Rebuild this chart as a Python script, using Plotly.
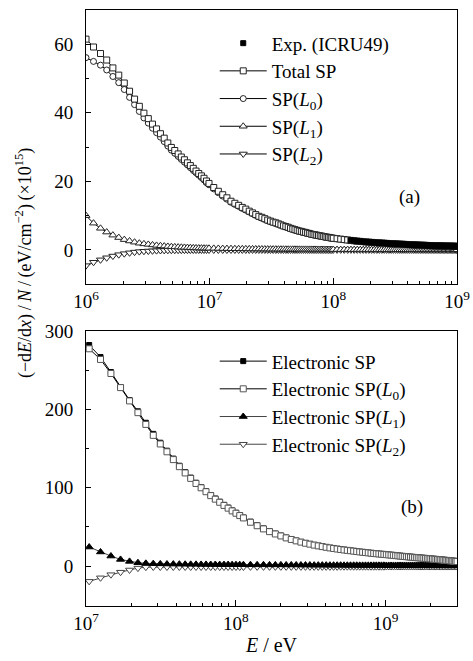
import plotly.graph_objects as go

# ---------------- panel (a) data: energy in MeV, SP in 1e-15 eV cm^2 ----------------
E_top_MeV = [1.00, 1.15, 1.31, 1.47, 1.65, 1.84, 2.04, 2.25, 2.47, 2.70, 2.94, 3.19, 3.45, 3.72, 4.00,
             4.29, 4.59, 4.90, 5.22, 5.56, 5.90, 6.25, 6.61, 6.98, 7.37, 7.76, 8.16, 8.58, 9.00, 9.43, 9.88,
             10.79, 11.75, 12.75, 13.79, 14.87, 15.99, 17.16, 18.36, 19.60, 20.89, 22.22, 23.58, 24.99, 26.44,
             27.93, 29.46, 31.03, 32.64, 34.29, 35.99, 37.72, 39.49, 41.31, 43.17, 45.06, 47.00, 48.98, 51.00,
             53.06, 55.16, 57.30, 59.49, 61.71, 63.97, 66.28, 68.63, 71.01, 73.44, 75.91, 78.42, 80.97, 83.56,
             86.19, 88.86, 91.58, 94.33, 97.12, 99.96,
             107.2, 114.75, 122.5, 130.6, 138.8, 147.4, 156.2, 165.2, 174.5, 184.1,
             193.9, 204.0, 214.3, 224.9, 235.7, 246.8, 258.2, 269.8, 281.6, 293.8,
             306.1, 318.75, 331.6, 344.8, 358.1, 371.8, 385.7, 399.8, 414.2, 428.9,
             443.8, 459.0, 474.4, 490.1, 506.0, 522.2, 538.7, 555.4, 572.3, 589.6,
             607.0, 624.75, 642.7, 661.0, 679.4, 698.2, 717.2, 736.4, 756.0, 775.7,
             795.7, 816.0, 836.5, 857.3, 878.3, 899.6, 921.2, 943.0, 965.0, 987.4, 1000.0]

total_sp = [61.5, 59.2, 57.3, 55.4, 53.1, 51.0, 48.7, 46.3, 44.0, 41.9, 39.9, 38.3, 36.7, 35.3, 33.9,
            32.6, 31.2, 29.9, 29.0, 28.0, 27.1, 26.3, 25.4, 24.6, 23.8, 23.0, 22.3, 21.6, 20.9, 20.1, 19.4,
            18.2, 17.1, 16.1, 15.2, 14.2, 13.6, 13.0, 12.4, 11.9, 11.3, 10.8, 10.3, 9.8, 9.5,
            9.1, 8.7, 8.4, 8.1, 7.9, 7.6, 7.3, 7.0, 6.8, 6.6, 6.3, 6.1, 5.9, 5.7,
            5.5, 5.4, 5.2, 5.1, 4.9, 4.8, 4.6, 4.5, 4.4, 4.3, 4.2, 4.1, 4.0, 3.9,
            3.8, 3.7, 3.65, 3.56, 3.47, 3.39,
            3.27, 3.14, 3.01, 2.90, 2.77, 2.66, 2.57, 2.49, 2.41, 2.34,
            2.26, 2.19, 2.14, 2.09, 2.05, 2.00, 1.95, 1.90, 1.86, 1.82,
            1.78, 1.75, 1.71, 1.68, 1.65, 1.62, 1.59, 1.57, 1.54, 1.51,
            1.48, 1.45, 1.42, 1.40, 1.37, 1.35, 1.34, 1.32, 1.30, 1.28,
            1.26, 1.25, 1.23, 1.21, 1.20, 1.18, 1.17, 1.16, 1.15, 1.14,
            1.13, 1.12, 1.11, 1.10, 1.09, 1.08, 1.07, 1.06, 1.05, 1.04, 1.03]

sp_L0 = [56.1, 55.0, 53.9, 52.5, 50.6, 48.8, 46.8, 44.5, 42.4, 40.4, 38.5, 37.0, 35.5, 34.2, 32.9,
         31.6, 30.3, 29.1, 28.2, 27.3, 26.4, 25.6, 24.8, 24.0, 23.2, 22.5, 21.8, 21.1, 20.4, 19.6, 19.0,
         17.8, 16.7, 15.7, 14.8, 13.9, 13.27, 12.7, 12.1, 11.6, 11.05, 10.55, 10.07, 9.6, 9.23,
         8.87, 8.52, 8.21, 7.93, 7.66, 7.39, 7.12, 6.87, 6.63, 6.39, 6.16, 5.93, 5.71, 5.52,
         5.37, 5.22, 5.07, 4.93, 4.79, 4.65, 4.51, 4.38, 4.26, 4.17, 4.07, 3.98, 3.89, 3.80,
         3.72, 3.63, 3.55, 3.46, 3.38, 3.30,
         3.17, 3.05, 2.92, 2.81, 2.69, 2.58, 2.49, 2.42, 2.34, 2.27,
         2.19, 2.13, 2.08, 2.03, 1.99, 1.94, 1.90, 1.85, 1.81, 1.77,
         1.73, 1.70, 1.67, 1.64, 1.61, 1.58, 1.55, 1.53, 1.50, 1.47,
         1.44, 1.42, 1.39, 1.37, 1.34, 1.32, 1.31, 1.29, 1.27, 1.25,
         1.23, 1.22, 1.20, 1.18, 1.17, 1.15, 1.14, 1.13, 1.12, 1.11,
         1.10, 1.09, 1.08, 1.07, 1.06, 1.05, 1.04, 1.03, 1.02, 1.01, 1.00]

sp_L1 = [10.0, 7.8, 6.3, 5.2, 4.3, 3.6, 3.0, 2.6, 2.25, 1.95, 1.75, 1.6, 1.45, 1.3, 1.2,
         1.1, 1.0, 0.93, 0.87, 0.81, 0.76, 0.72, 0.68, 0.64, 0.6, 0.57, 0.54, 0.52, 0.5, 0.48, 0.46,
         0.44, 0.42, 0.39, 0.38, 0.36, 0.34, 0.33, 0.31, 0.30, 0.29, 0.28, 0.27, 0.26, 0.25,
         0.24, 0.23, 0.22, 0.22, 0.21, 0.20, 0.20, 0.19, 0.18, 0.18, 0.17, 0.17, 0.17, 0.16,
         0.16, 0.15, 0.15, 0.15, 0.14, 0.14, 0.14, 0.13, 0.13, 0.13, 0.12, 0.12, 0.12, 0.12,
         0.11, 0.11, 0.11, 0.11, 0.10, 0.10,
         0.10, 0.09, 0.09, 0.09, 0.08, 0.08, 0.08, 0.07, 0.07, 0.07,
         0.07, 0.06, 0.06, 0.06, 0.06, 0.06, 0.05, 0.05, 0.05, 0.05,
         0.05, 0.05, 0.04, 0.04, 0.04, 0.04, 0.04, 0.04, 0.04, 0.04,
         0.04, 0.03, 0.03, 0.03, 0.03, 0.03, 0.03, 0.03, 0.03, 0.03,
         0.03, 0.03, 0.03, 0.03, 0.03, 0.03, 0.03, 0.03, 0.03, 0.03,
         0.03, 0.03, 0.03, 0.03, 0.03, 0.03, 0.03, 0.03, 0.03, 0.03, 0.03]

sp_L2 = [-4.6, -3.6, -2.9, -2.3, -1.8, -1.4, -1.1, -0.85, -0.65, -0.5, -0.4, -0.33, -0.27, -0.22, -0.18,
         -0.15, -0.13, -0.11, -0.1, -0.09, -0.08, -0.07, -0.06, -0.06, -0.05, -0.05, -0.04, -0.04, -0.04, -0.03, -0.03,
         -0.03, -0.03, -0.03, -0.03, -0.03, -0.03, -0.03, -0.03, -0.03, -0.03, -0.02, -0.02, -0.02, -0.02,
         -0.02, -0.02, -0.02, -0.02, -0.02, -0.02, -0.02, -0.02, -0.02, -0.02, -0.02, -0.02, -0.02, -0.02,
         -0.01, -0.01, -0.01, -0.01, -0.01, -0.01, -0.01, -0.01, -0.01, -0.01, -0.01, -0.01, -0.01, -0.01,
         -0.01, -0.01, -0.01, -0.01, -0.01, -0.01,
         0.0, 0.0, 0.0, 0.0, 0.0, 0.0, 0.0, 0.0, 0.0, 0.0,
         0.0, 0.0, 0.0, 0.0, 0.0, 0.0, 0.0, 0.0, 0.0, 0.0,
         0.0, 0.0, 0.0, 0.0, 0.0, 0.0, 0.0, 0.0, 0.0, 0.0,
         0.0, 0.0, 0.0, 0.0, 0.0, 0.0, 0.0, 0.0, 0.0, 0.0,
         0.0, 0.0, 0.0, 0.0, 0.0, 0.0, 0.0, 0.0, 0.0, 0.0,
         0.0, 0.0, 0.0, 0.0, 0.0, 0.0, 0.0, 0.0, 0.0, 0.0, 0.0]

# Exp. (ICRU49): the last 57 energies of the grid above
exp_E_MeV = E_top_MeV[-57:]
exp_sp = [2.8, 2.7, 2.6, 2.5, 2.4, 2.3, 2.25, 2.2, 2.15, 2.1, 2.05, 2.0, 1.95, 1.9, 1.86, 1.82,
          1.78, 1.75, 1.71, 1.68, 1.65, 1.62, 1.59, 1.57, 1.54, 1.51, 1.48, 1.45, 1.42, 1.40,
          1.37, 1.35, 1.34, 1.32, 1.30, 1.28, 1.26, 1.25, 1.23, 1.21, 1.20, 1.18, 1.17, 1.16,
          1.15, 1.14, 1.13, 1.12, 1.11, 1.10, 1.09, 1.08, 1.07, 1.06, 1.05, 1.04, 1.03]

# ---------------- panel (b) data ----------------
E_bot_MeV = [10.50, 12.50, 14.67, 17.01, 19.53, 22.22, 25.09, 28.12, 31.33, 34.72,
             38.28, 42.01, 45.92, 50.00, 54.25, 58.68, 63.28, 68.05, 73.00, 78.12,
             83.41, 88.88, 94.53, 100.3, 106.3, 112.5,
             125.3, 138.9, 153.1, 168.0, 183.7, 200.0, 217.0, 234.7, 253.1, 272.2,
             292.0, 312.5, 333.7, 355.5, 378.1, 401.4, 425.3, 450.0, 475.3, 501.4,
             528.1, 555.5, 583.6, 612.5, 642.0, 672.2, 703.1, 734.7, 767.0, 800.0,
             833.6, 868.0, 903.1, 938.8, 975.3, 1012.4, 1050.3, 1088.8, 1128.1, 1168.0,
             1208.6, 1249.9, 1291.9, 1334.6, 1378.0, 1422.1, 1466.9, 1512.4, 1558.6, 1605.5,
             1653.0, 1701.3, 1750.2, 1799.9, 1850.2, 1901.3, 1953.0, 2005.4, 2058.5, 2112.4,
             2166.9, 2222.1, 2278.0, 2334.6, 2391.9, 2449.8, 2508.5, 2567.9, 2628.0, 2688.7,
             2750.2, 2812.3, 2875.2, 2938.7, 3002.9]

elec_sp = [282.4, 267.0, 247.8, 228.7, 212.0, 197.7, 183.1, 168.9, 157.6, 147.4,
           137.3, 128.2, 120.1, 113.0, 106.5, 100.9, 95.9, 90.8, 86.3, 82.2,
           78.2, 74.7, 71.1, 68.1, 65.1, 62.0,
           56.7, 52.1, 48.1, 44.5, 41.5, 39.0, 36.4, 34.4, 32.6, 30.9,
           29.5, 28.3, 27.0, 26.0, 25.1, 24.2, 23.3, 22.6, 21.9, 21.5,
           20.8, 20.3, 19.8, 19.3, 18.8, 18.2, 17.8, 17.4, 17.0, 16.6,
           16.2, 15.9, 15.6, 15.3, 15.0, 14.8, 14.5, 14.2, 13.9, 13.6,
           13.3, 13.0, 12.7, 12.5, 12.2, 12.0, 11.7, 11.5, 11.2, 11.0,
           10.8, 10.6, 10.4, 10.2, 10.0, 9.8, 9.6, 9.3, 9.1, 8.9,
           8.7, 8.5, 8.3, 8.1, 7.9, 7.7, 7.5, 7.3, 7.1, 6.9,
           6.7, 6.5, 6.3, 6.1, 5.9]

elec_L0 = [277.6, 264.0, 246.0, 228.0, 211.0, 196.0, 181.0, 167.0, 156.0, 146.0,
           136.0, 127.0, 119.0, 112.0, 105.5, 100.0, 95.0, 90.0, 85.5, 81.5,
           77.5, 74.0, 70.5, 67.5, 64.5, 61.5,
           56.0, 51.5, 47.5, 44.0, 41.0, 38.5, 36.0, 34.0, 32.2, 30.6,
           29.2, 28.0, 26.8, 25.8, 24.9, 24.0, 23.2, 22.5, 21.8, 21.2,
           20.6, 20.1, 19.6, 19.1, 18.6, 18.1, 17.7, 17.3, 16.9, 16.5,
           16.1, 15.8, 15.5, 15.2, 14.9, 14.6, 14.3, 14.0, 13.7, 13.4,
           13.1, 12.8, 12.5, 12.3, 12.0, 11.8, 11.5, 11.3, 11.0, 10.8,
           10.6, 10.4, 10.2, 10.0, 9.8, 9.6, 9.4, 9.2, 9.0, 8.8,
           8.6, 8.4, 8.2, 8.0, 7.8, 7.6, 7.4, 7.2, 7.0, 6.8,
           6.6, 6.4, 6.2, 6.0, 5.8]

elec_L1 = [24.3, 18.0, 12.8, 8.5, 6.0, 4.3, 3.5, 3.1, 2.8, 2.6,
           2.5, 2.4, 2.3, 2.2, 2.2, 2.1, 2.1, 2.0, 2.0, 1.9,
           1.9, 1.9, 1.8, 1.8, 1.8, 1.7,
           1.7, 1.6, 1.6, 1.5, 1.5, 1.5, 1.4, 1.4, 1.4, 1.3,
           1.3, 1.3, 1.2, 1.2, 1.2, 1.2, 1.1, 1.1, 1.1, 1.1,
           1.0, 1.0, 1.0, 1.0, 1.0, 0.9, 0.9, 0.9, 0.9, 0.9,
           0.9, 0.9, 0.9, 0.9, 0.9, 0.8, 0.8, 0.8, 0.8, 0.8,
           0.8, 0.8, 0.8, 0.8, 0.8, 0.8, 0.8, 0.8, 0.8, 0.8,
           0.8, 0.8, 0.8, 0.8, 0.8, 0.8, 0.8, 0.7, 0.7, 0.7,
           0.7, 0.7, 0.7, 0.7, 0.7, 0.7, 0.7, 0.7, 0.7, 0.7,
           0.7, 0.7, 0.7, 0.7, 0.7]

elec_L2 = [-19.5, -15.0, -11.0, -7.8, -5.0, -2.6, -1.4, -1.2, -1.2, -1.2,
           -1.2, -1.2, -1.2, -1.2, -1.2, -1.2, -1.2, -1.2, -1.2, -1.2,
           -1.2, -1.2, -1.2, -1.2, -1.2, -1.2,
           -1.0, -1.0, -1.0, -1.0, -1.0, -1.0, -1.0, -1.0, -1.0, -1.0,
           -1.0, -1.0, -1.0, -1.0, -1.0, -1.0, -1.0, -1.0, -1.0, -0.8,
           -0.8, -0.8, -0.8, -0.8, -0.8, -0.8, -0.8, -0.8, -0.8, -0.8,
           -0.8, -0.8, -0.8, -0.8, -0.8, -0.6, -0.6, -0.6, -0.6, -0.6,
           -0.6, -0.6, -0.6, -0.6, -0.6, -0.6, -0.6, -0.6, -0.6, -0.6,
           -0.6, -0.6, -0.6, -0.6, -0.6, -0.6, -0.6, -0.6, -0.6, -0.6,
           -0.6, -0.6, -0.6, -0.6, -0.6, -0.6, -0.6, -0.6, -0.6, -0.6,
           -0.6, -0.6, -0.6, -0.6, -0.6]

top_ticks = [1e6, 1e7, 1e8, 1e9]
top_tick_text = ["10<sup>6</sup>", "10<sup>7</sup>", "10<sup>8</sup>", "10<sup>9</sup>"]
bot_ticks = [1e7, 1e8, 1e9]
bot_tick_text = ["10<sup>7</sup>", "10<sup>8</sup>", "10<sup>9</sup>"]

FONT = "Liberation Serif"
fig = go.Figure()


def add(E_MeV, y, name, symbol, fill, outline, size, xa, ya, legend, rank,
        mode="lines+markers", lcolor="black"):
    fig.add_trace(go.Scatter(
        x=[e * 1e6 for e in E_MeV], y=y, name=name, mode=mode,
        xaxis=xa, yaxis=ya, legend=legend, legendrank=rank,
        marker=dict(symbol=symbol, size=size, color=fill,
                    line=dict(color=outline, width=1)),
        line=dict(color=lcolor, width=1)))


# panel (a)
add(E_top_MeV, sp_L2, "SP(<i>L</i><sub>2</sub>)", "triangle-down", "white", "#222", 7, "x", "y", "legend", 5)
add(E_top_MeV, sp_L1, "SP(<i>L</i><sub>1</sub>)", "triangle-up", "white", "#222", 7, "x", "y", "legend", 4)
add(E_top_MeV, sp_L0, "SP(<i>L</i><sub>0</sub>)", "circle", "white", "#222", 6, "x", "y", "legend", 3)
add(E_top_MeV, total_sp, "Total SP", "square", "white", "#222", 6, "x", "y", "legend", 2)
add(exp_E_MeV, exp_sp, "Exp. (ICRU49)", "square", "black", "black", 5, "x", "y", "legend", 1, mode="markers")

# panel (b)
add(E_bot_MeV, elec_L2, "Electronic SP(<i>L</i><sub>2</sub>)", "triangle-down", "white", "#444", 7,
    "x2", "y2", "legend2", 4, lcolor="#444")
add(E_bot_MeV, elec_L1, "Electronic SP(<i>L</i><sub>1</sub>)", "triangle-up", "black", "black", 7,
    "x2", "y2", "legend2", 3, lcolor="#444")
add(E_bot_MeV, elec_sp, "Electronic SP", "square", "black", "black", 5, "x2", "y2", "legend2", 1)
add(E_bot_MeV, elec_L0, "Electronic SP(<i>L</i><sub>0</sub>)", "square", "white", "#555", 6,
    "x2", "y2", "legend2", 2)

tickfont = dict(family=FONT, size=19, color="black")
axis_common = dict(showline=True, linecolor="black", linewidth=1, mirror=True, showgrid=False,
                   zeroline=False, ticks="inside", tickcolor="black", tickfont=tickfont,
                   automargin=False)

xlog = dict(type="log", ticklen=6,
            minor=dict(ticks="inside", ticklen=3, dtick="D1", tickcolor="black", showgrid=False),
            **axis_common)

fig.update_layout(
    width=473, height=661,
    autosize=False,
    margin=dict(l=86, r=16, t=10, b=55, autoexpand=False),
    paper_bgcolor="white", plot_bgcolor="white",
    font=dict(family=FONT, size=19, color="black"),
    xaxis=dict(domain=[0, 1], range=[6, 9.0001], anchor="y",
               tickmode="array", tickvals=top_ticks, ticktext=top_tick_text, **xlog),
    yaxis=dict(domain=[0.54, 1.0], range=[-10, 70], dtick=20, ticklen=5, anchor="x",
               ticklabelstandoff=8,
               minor=dict(ticks="inside", ticklen=3, dtick=10, tickcolor="black", showgrid=False),
               **axis_common),
    xaxis2=dict(domain=[0, 1], range=[7, 9.4771], anchor="y2",
                tickmode="array", tickvals=bot_ticks, ticktext=bot_tick_text,
                title=dict(text="<i>E</i> / eV", font=dict(family=FONT, size=20), standoff=4),
                **xlog),
    yaxis2=dict(domain=[0, 0.461], range=[-51, 300], dtick=100, ticklen=5, anchor="x2",
                ticklabelstandoff=8,
                minor=dict(ticks="inside", ticklen=3, dtick=50, tickcolor="black", showgrid=False),
                **axis_common),
    legend=dict(x=0.347, y=0.976, xanchor="left", yanchor="top", bgcolor="rgba(0,0,0,0)",
                font=dict(family=FONT, size=19), itemwidth=47, tracegroupgap=0),
    legend2=dict(x=0.347, y=0.4425, xanchor="left", yanchor="top", bgcolor="rgba(0,0,0,0)",
                 font=dict(family=FONT, size=19), itemwidth=47, tracegroupgap=0),
    annotations=[
        dict(text="(−d<i>E</i>/d<i>x</i>)\u2009/\u2009<i>N</i>\u2009/\u2009(eV/cm<sup>−2</sup>)\u2009(×10<sup>15</sup>)",
             xref="paper", yref="paper", x=-0.165, y=0.575, textangle=-90,
             showarrow=False, xanchor="center", yanchor="middle",
             font=dict(family=FONT, size=18)),
        dict(text="(a)", xref="x domain", yref="y domain", x=0.873, y=0.318, showarrow=False,
             xanchor="center", yanchor="middle", font=dict(family=FONT, size=19)),
        dict(text="(b)", xref="x2 domain", yref="y2 domain", x=0.878, y=0.36, showarrow=False,
             xanchor="center", yanchor="middle", font=dict(family=FONT, size=19)),
    ],
)

fig.write_html("out.html", config={"responsive": False, "displayModeBar": False},
               post_script="document.body.style.margin='0px';document.body.style.padding='0px';")
